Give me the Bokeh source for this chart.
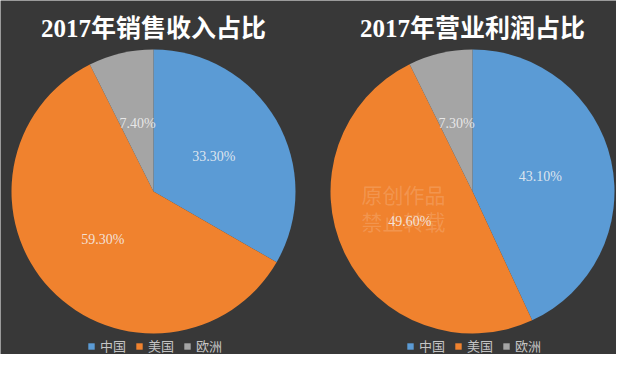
import numpy as np
from bokeh.plotting import figure
from bokeh.models import ColumnDataSource, Legend, LegendItem, Range1d
from bokeh.core.properties import value
from bokeh.embed import file_html
from bokeh.resources import INLINE

# ---- data ----
categories = ["中国", "美国", "欧洲"]
sales_share = [33.3, 59.3, 7.4]      # 2017年销售收入占比 (%)
profit_share = [43.1, 49.6, 7.3]     # 2017年营业利润占比 (%)
titles = ["2017年销售收入占比", "2017年营业利润占比"]
colors = ["#5b9bd5", "#f0822e", "#a5a5a5"]

# ---- layout constants (pixels == data units) ----
W, H = 616, 354
centers = [(153, 163), (472, 163)]
R = 142
LABEL_FRAC = 0.49
TITLE_Y = 326

p = figure(width=W, height=H, x_range=Range1d(0, W), y_range=Range1d(0, H),
           output_backend="svg", toolbar_location=None, min_border=0,
           x_axis_location=None, y_axis_location=None)
p.grid.visible = False
p.outline_line_color = None
p.background_fill_color = "#383838"
p.border_fill_color = "#383838"

legend_locs = [(87, -1), (406, -1)]

for (cx, cy), shares, title, loc in zip(centers, [sales_share, profit_share], titles, legend_locs):
    vals = np.array(shares, dtype=float)
    cum = np.concatenate([[0.0], np.cumsum(vals)]) / vals.sum()
    a0 = np.pi / 2 - 2 * np.pi * cum[:-1]
    a1 = np.pi / 2 - 2 * np.pi * cum[1:]
    mid = (a0 + a1) / 2
    src = ColumnDataSource(dict(
        x=[cx] * len(vals), y=[cy] * len(vals),
        start=a1, end=a0, color=colors, cat=categories,
        lx=cx + LABEL_FRAC * R * np.cos(mid),
        ly=cy + LABEL_FRAC * R * np.sin(mid),
        txt=[f"{v:.2f}%" for v in vals],
    ))
    r = p.wedge(x="x", y="y", radius=R, start_angle="start", end_angle="end",
                fill_color="color", line_color=None, source=src)
    p.text(x="lx", y="ly", text="txt", source=src,
           text_font=value("Liberation Serif"), text_font_size="14px",
           text_color="#f4f4f4", text_alpha=0.85,
           text_align="center", text_baseline="middle")
    p.text(x=[cx], y=[TITLE_Y], text=[title],
           text_font=value("Liberation Serif, Noto Sans CJK SC"),
           text_font_size="25px", text_font_style="bold",
           text_color="#ffffff", text_align="center", text_baseline="middle")
    items = [LegendItem(label=c, renderers=[r], index=i) for i, c in enumerate(categories)]
    lg = Legend(items=items, orientation="horizontal", location=loc,
                background_fill_alpha=0, border_line_color=None,
                padding=0, margin=0, spacing=9, label_standoff=5,
                glyph_width=8, glyph_height=8, label_height=14,
                label_text_font="Noto Sans CJK SC",
                label_text_font_size="13px", label_text_color="#c4c4c4")
    p.add_layout(lg, "center")

# faint watermark text
p.text(x=[403, 403], y=[161, 134], text=["原创作品", "禁止转载"],
       text_font=value("Noto Sans CJK SC"), text_font_size="21px",
       text_color="#ffffff", text_alpha=0.16,
       text_align="center", text_baseline="middle")

open("out.html", "w").write(file_html(p, INLINE))
